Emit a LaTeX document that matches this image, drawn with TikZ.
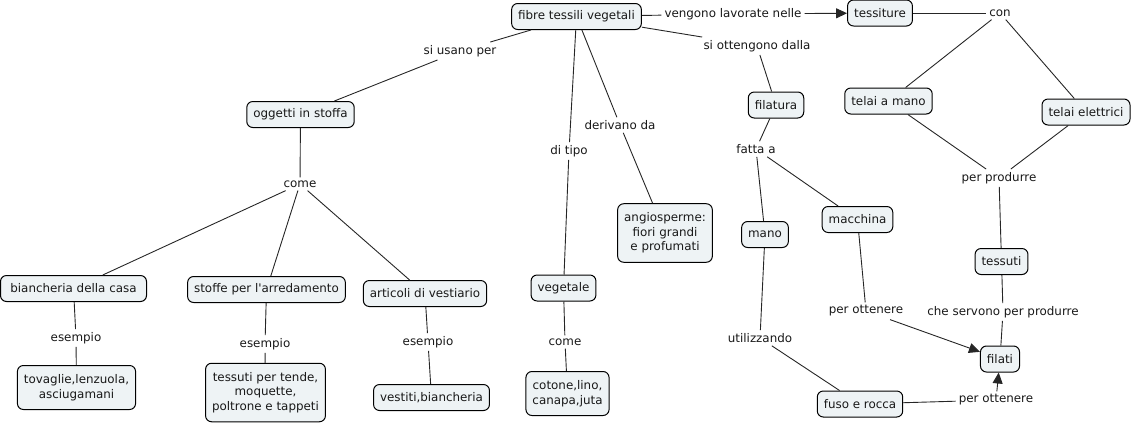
\documentclass[tikz,border=0pt]{standalone}
\usepackage{fontspec}
\setmainfont{DejaVu Sans}[Ligatures=TeXOff]
\usetikzlibrary{arrows.meta}
\definecolor{boxfill}{RGB}{238,243,245}
\definecolor{txt}{RGB}{25,25,25}
\begin{document}
\begin{tikzpicture}[x=1pt,y=-1pt,
  every node/.style={font=\fontsize{11.9}{14.5}\selectfont, text=txt},
  concept/.style={draw=black, line width=1pt, fill=boxfill, rounded corners=6pt,
    inner xsep=6.5pt, inner ysep=4pt, minimum height=26pt, align=center},
  multi/.style={inner ysep=9pt},
  lbl/.style={inner sep=3pt, fill=white},
  conn/.style={line width=0.9pt, draw=black!85},
  arr/.style={conn, -{Triangle[length=11pt,width=10pt]}}]
\useasboundingbox (0,0) rectangle (1134,424);

% concepts
\node[concept] (fibre) at (576.5,16.5) {fibre tessili vegetali};
\node[concept] (tessiture) at (880,13) {tessiture};
\node[concept] (telaimano) at (888.5,101) {telai a mano};
\node[concept] (telaiel) at (1086,112) {telai elettrici};
\node[concept] (tessuti) at (1001.5,261.5) {tessuti};
\node[concept] (filati) at (1000,359) {filati};
\node[concept] (macchina) at (857.5,219.5) {macchina};
\node[concept] (fuso) at (860,404) {fuso e rocca};
\node[concept] (filatura) at (776,105) {filatura};
\node[concept] (mano) at (765,234.5) {mano};
\node[concept] (oggetti) at (300.5,114.5) {oggetti in stoffa};
\node[concept, minimum width=146pt] (biancheria) at (73.5,288.5) {biancheria della casa};
\node[concept] (stoffe) at (266.5,289.5) {stoffe per l'arredamento};
\node[concept] (articoli) at (425,293.5) {articoli di vestiario};
\node[concept, multi] (tovaglie) at (76.5,387.5) {tovaglie,lenzuola,\\asciugamani};
\node[concept, multi] (tende) at (265.5,392.5) {tessuti per tende,\\moquette,\\poltrone e tappeti};
\node[concept] (vestiti) at (431.5,397.5) {vestiti,biancheria};
\node[concept] (vegetale) at (563.5,288) {vegetale};
\node[concept, multi] (cotone) at (567.5,393.5) {cotone,lino,\\canapa,juta};
\node[concept, multi] (angio) at (665,233) {angiosperme:\\fiori grandi\\e profumati};

% linking phrases
\node[lbl] (vengono) at (733,14) {vengono lavorate nelle};
\node[lbl] (con) at (1000,13) {con};
\node[lbl] (perprodurre) at (999,178) {per produrre};
\node[lbl] (cheservono) at (1003,312) {che servono per produrre};
\node[lbl] (perott1) at (866,311) {per ottenere};
\node[lbl] (perott2) at (996,400) {per ottenere};
\node[lbl] (siott) at (757,46) {si ottengono dalla};
\node[lbl] (fattaa) at (756,149) {fatta a};
\node[lbl] (utilizzando) at (760,338) {utilizzando};
\node[lbl] (siusano) at (460,51) {si usano per};
\node[lbl] (come1) at (300,184) {come};
\node[lbl] (es1) at (76,338) {esempio};
\node[lbl] (es2) at (265,344) {esempio};
\node[lbl] (es3) at (428,342) {esempio};
\node[lbl] (ditipo) at (569,151) {di tipo};
\node[lbl] (come2) at (565,342) {come};
\node[lbl] (derivano) at (620,125) {derivano da};

% connectors
\draw[conn] (fibre) -- (vengono);
\draw[arr] (vengono) -- (tessiture);
\draw[conn] (tessiture) -- (con);
\draw[conn] (con) -- (telaimano);
\draw[conn] (con) -- (telaiel);
\draw[conn] (telaimano) -- (perprodurre);
\draw[conn] (telaiel) -- (perprodurre);
\draw[conn] (perprodurre) -- (tessuti);
\draw[conn] (tessuti) -- (cheservono);
\draw[conn] (cheservono) -- (filati);
\draw[conn] (macchina) -- (perott1);
\draw[arr] (perott1) -- (filati);
\draw[conn] (fuso) -- (perott2);
\draw[arr] (perott2) -- (filati);
\draw[conn] (fibre) -- (siott);
\draw[conn] (siott) -- (filatura);
\draw[conn] (filatura) -- (fattaa);
\draw[conn] (fattaa) -- (mano);
\draw[conn] (fattaa) -- (macchina);
\draw[conn] (mano) -- (utilizzando);
\draw[conn] (utilizzando) -- (fuso);
\draw[conn] (fibre) -- (siusano);
\draw[conn] (siusano) -- (oggetti);
\draw[conn] (oggetti) -- (come1);
\draw[conn] (come1) -- (biancheria);
\draw[conn] (come1) -- (stoffe);
\draw[conn] (come1) -- (articoli);
\draw[conn] (biancheria) -- (es1);
\draw[conn] (es1) -- (tovaglie);
\draw[conn] (stoffe) -- (es2);
\draw[conn] (es2) -- (tende);
\draw[conn] (articoli) -- (es3);
\draw[conn] (es3) -- (vestiti);
\draw[conn] (fibre) -- (ditipo);
\draw[conn] (ditipo) -- (vegetale);
\draw[conn] (vegetale) -- (come2);
\draw[conn] (come2) -- (cotone);
\draw[conn] (fibre) -- (derivano);
\draw[conn] (derivano) -- (angio);
\end{tikzpicture}
\end{document}
